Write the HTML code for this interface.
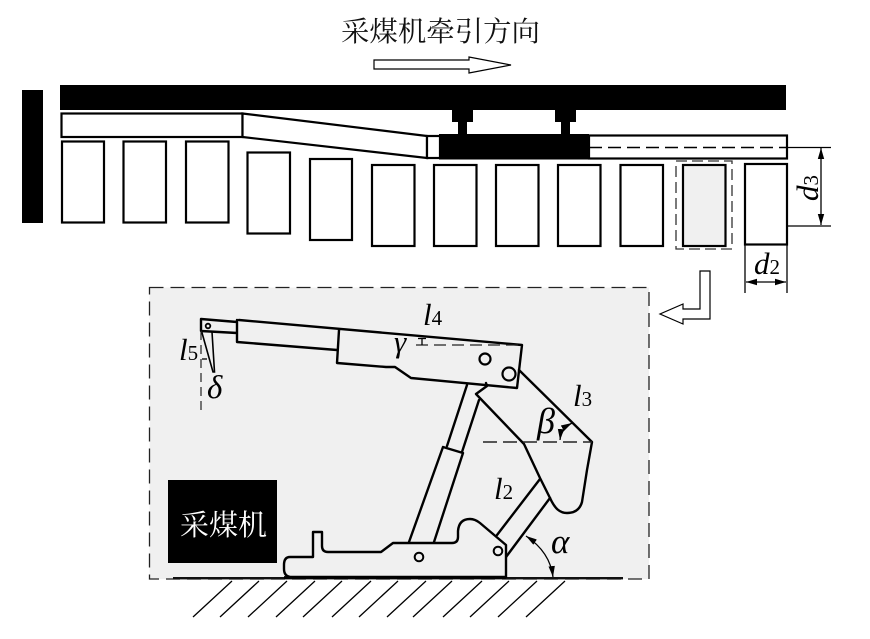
<!DOCTYPE html>
<html>
<head>
<meta charset="utf-8">
<style>
html,body{margin:0;padding:0;background:#fff;width:870px;height:639px;overflow:hidden}
svg{display:block}
.l{fill:none;stroke:#000;stroke-width:2.4;stroke-linejoin:round;stroke-linecap:round}
.w{fill:#fff;stroke:#000;stroke-width:2.2}
.t{fill:none;stroke:#000;stroke-width:1.3}
.i{font-family:"Liberation Serif",serif;font-style:italic;fill:#000}
.s{font-family:"Liberation Serif",serif;fill:#000}
.c{font-family:"Liberation Serif","Noto Serif CJK SC",serif}
</style>
</head>
<body>
<svg width="870" height="639" viewBox="0 0 870 639" xmlns="http://www.w3.org/2000/svg">
<defs>
<marker id="a" markerWidth="12" markerHeight="8" refX="11" refY="4" orient="auto-start-reverse" markerUnits="userSpaceOnUse"><path d="M0 .8L11 4L0 7.2z" fill="#000"/></marker>
</defs>

<text class="c" x="341" y="41" font-size="28" textLength="199" lengthAdjust="spacingAndGlyphs" fill="#111">采煤机牵引方向</text>
<path d="M374 60H469V57L511 65L469 73V69H374z" fill="#fff" stroke="#000" stroke-width="1.200"/>

<rect x="22" y="90" width="21" height="133" fill="#000"/>
<rect x="60" y="85" width="726" height="25" fill="#000"/>

<rect x="61.500" y="113.500" width="181" height="23.500" class="w"/>
<path d="M242.500 113.500L427 136V158L242.500 137z" class="w"/>
<rect x="427" y="136" width="13" height="22" class="w"/>
<rect x="589" y="135.500" width="198" height="23" class="w"/>
<path d="M589 147.500H787" stroke="#000" stroke-width="1.400" stroke-dasharray="13 6" fill="none"/>

<rect x="439" y="134" width="150" height="25.500" fill="#000"/>
<path d="M452 110H473V122H467V134H458V122H452z" fill="#000"/>
<path d="M555 110H576V122H570V134H561V122H555z" fill="#000"/>

<g class="w">
<rect x="62" y="141.500" width="42" height="81"/>
<rect x="123.500" y="141.500" width="42.500" height="81"/>
<rect x="186" y="141.500" width="42.500" height="81"/>
<rect x="247.500" y="152.500" width="42.500" height="81"/>
<rect x="310" y="159" width="42" height="81"/>
<rect x="372" y="165" width="42.500" height="81"/>
<rect x="434" y="165" width="42.500" height="81"/>
<rect x="496" y="165" width="42.500" height="81"/>
<rect x="558" y="165" width="42.500" height="81"/>
<rect x="620.500" y="165" width="42.500" height="81"/>
<rect x="683" y="165" width="42.500" height="81" style="fill:#f0f0f0"/>
<rect x="745" y="164" width="42" height="80.500"/>
</g>
<rect x="676" y="161" width="56" height="88" fill="none" stroke="#333" stroke-width="1.300" stroke-dasharray="11 5"/>

<path d="M787 147.500H831M787 226H831" class="t"/>
<path d="M821 148V225" class="t" marker-start="url(#a)" marker-end="url(#a)"/>
<text class="i" font-size="31" transform="translate(818,201) rotate(-90)">d<tspan class="s" font-style="normal" font-size="21" dy="0">3</tspan></text>
<path d="M745 245V293M787 245V293" class="t"/>
<path d="M746 282H786" class="t" marker-start="url(#a)" marker-end="url(#a)"/>
<text class="i" x="754" y="274" font-size="31">d<tspan class="s" font-style="normal" font-size="21">2</tspan></text>

<path d="M700 271H710V319H683V324L660 314L683 304V309H700z" fill="#fff" stroke="#000" stroke-width="1.200"/>

<rect x="149.500" y="287.500" width="499.500" height="291.500" fill="#f0f0f0" stroke="#222" stroke-width="1.300" stroke-dasharray="14 7"/>

<rect x="168" y="480" width="109" height="83" fill="#000"/>
<text class="c" x="180" y="535" font-size="29" textLength="87" lengthAdjust="spacingAndGlyphs" fill="#fff">采煤机</text>

<rect x="173" y="577" width="450" height="2.400" fill="#111"/>
<path d="M232 581L193 617M259 581L220 617M287 581L248 617M315 581L276 617M342 581L303 617M371 581L332 617M398 581L359 617M426 581L387 617M452 581L413 617M482 581L443 617M509 581L470 617M537 581L498 617M565 581L526 617" class="t"/>

<path d="M201 319L237 322M201 331L237 333M201 319V331M237 320V342L337 350M239 320L522 345L517 388L411 378L395 367H386L337 363L339 330" class="l"/>
<circle cx="208" cy="326" r="2.300" fill="none" stroke="#000" stroke-width="1.800"/>
<path d="M201.500 331L213 372H214.500L212 332" fill="none" stroke="#000" stroke-width="1.600"/>
<path d="M201 331V415" stroke="#222" stroke-width="1.200" stroke-dasharray="9 5" fill="none"/>
<path d="M202 359H207" class="t"/>
<circle cx="485" cy="359" r="5.500" fill="none" stroke="#000" stroke-width="2.200"/>
<circle cx="509" cy="374" r="6.500" fill="none" stroke="#000" stroke-width="2.200"/>

<path d="M416 345H522" stroke="#222" stroke-width="1.300" stroke-dasharray="12 6" fill="none"/>
<path d="M422 338V345" class="t"/>
<path d="M418 338.500H426" class="t"/>

<path d="M467 385L447 446M479 400L462 452M443 447L463 453M443 447L409 542M463 453L434 542" class="l"/>

<path d="M486 383L487 386L476 394L524 444L540 478L550 498C555 509 560 513 567 513C575 513 580 509 582 502L587 470L592 442L519 370" class="l"/>
<path d="M497 535L540 479M506 557L550 498" class="l"/>

<path d="M483 442H592" stroke="#222" stroke-width="1.400" stroke-dasharray="14 6" fill="none"/>
<path d="M572 423Q561 429 560 440" class="t" marker-start="url(#a)" marker-end="url(#a)"/>

<path d="M290 557H313V532H322V546Q322 552 328 552H381L393 543H452Q458 543 458 537V531Q459 519 470 519Q475 519 480 523L506 545V577H292Q284 577 284 569V565Q284 557 290 557z" fill="#f0f0f0" stroke="#000" stroke-width="2.400" stroke-linejoin="round"/>
<path d="M284 577.500H506" stroke="#000" stroke-width="2.800"/>
<circle cx="419" cy="557" r="4.300" fill="none" stroke="#000" stroke-width="2"/>
<circle cx="498" cy="551" r="4.300" fill="none" stroke="#000" stroke-width="2"/>

<path d="M526 536Q550 552 553 577" class="t" marker-start="url(#a)" marker-end="url(#a)"/>

<text class="i" x="423" y="325" font-size="31">l<tspan class="s" font-style="normal" font-size="21">4</tspan></text>
<text class="i" x="179" y="360" font-size="31">l<tspan class="s" font-style="normal" font-size="21">5</tspan></text>
<text class="i" x="207" y="398" font-size="33">δ</text>
<text class="i" x="394" y="352" font-size="31">γ</text>
<text class="i" x="573" y="406" font-size="31">l<tspan class="s" font-style="normal" font-size="21">3</tspan></text>
<text class="i" x="537" y="433" font-size="36">β</text>
<text class="i" x="494" y="499" font-size="31">l<tspan class="s" font-style="normal" font-size="21">2</tspan></text>
<text class="i" x="551" y="553" font-size="35">α</text>
</svg>
</body>
</html>
